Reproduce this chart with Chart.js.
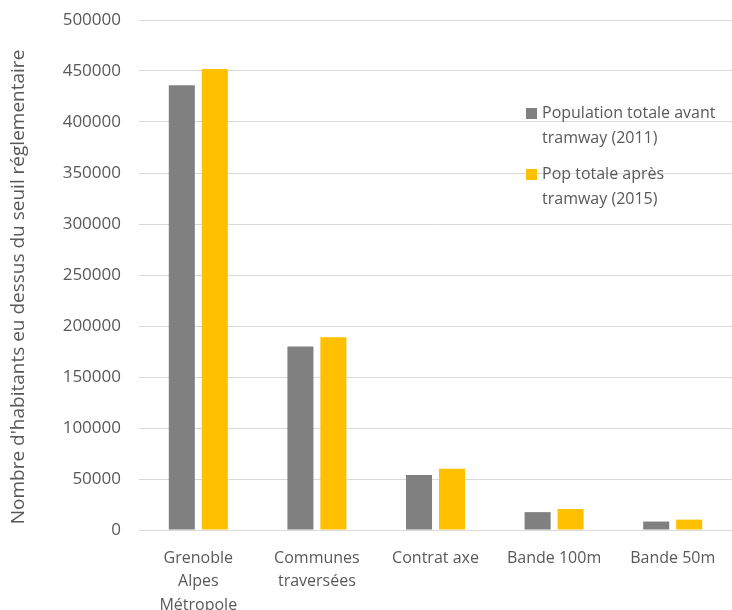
<!DOCTYPE html>
<html>
<head>
<meta charset="utf-8">
<script src="https://cdn.jsdelivr.net/npm/chart.js@4"></script>
<style>
  html, body { margin: 0; padding: 0; background: #fff; }
  #wrap { width: 732px; height: 610px; }
</style>
</head>
<body>
<div id="wrap"><canvas id="myChart" width="732" height="610"></canvas></div>
<script>
const categories = [['Grenoble', 'Alpes', 'Métropole'], ['Communes', 'traversées'], 'Contrat axe', 'Bande 100m', 'Bande 50m']
const avant2011 = [436000, 180000, 54000, 17500, 8300]
const apres2015 = [452000, 189000, 60000, 20600, 10200]
const yTicks = [0, 50000, 100000, 150000, 200000, 250000, 300000, 350000, 400000, 450000, 500000]
const seriesNames = [['Population totale avant', 'tramway (2011)'], ['Pop totale après', 'tramway (2015)']]
const yTitle = "Nombre d'habitants eu dessus du seuil réglementaire"
const colours = ['#808080', '#FFC000']

const FONT = '"Open Sans", sans-serif'
const TEXT = '#595959'

// legend sits inside the plot, over the gridlines, like the original
// axis title is a bit below the plot's middle in the original, so drawn here too
const extras = {
  id: 'extras',
  afterDraw(chart) {
    const ctx = chart.ctx
    ctx.save()
    ctx.font = '16px ' + FONT
    ctx.textBaseline = 'middle'
    const tops = [113, 174]
    seriesNames.forEach((lines, i) => {
      ctx.fillStyle = colours[i]
      ctx.fillRect(526, tops[i] - 5, 11, 11)
      ctx.fillStyle = TEXT
      lines.forEach((t, j) => ctx.fillText(t, 542, tops[i] + j * 25))
    })
    ctx.translate(19, 287)
    ctx.rotate(-Math.PI / 2)
    ctx.font = '19px ' + FONT
    ctx.textAlign = 'center'
    ctx.fillText(yTitle, 0, 0)
    ctx.restore()
  }
}

function chart() {
  const find = document.getElementById('myChart')
  new Chart(find, {
    type: 'bar',
    data: {
      labels: categories,
      datasets: [
        { label: seriesNames[0].join(' '), data: avant2011, backgroundColor: colours[0] },
        { label: seriesNames[1].join(' '), data: apres2015, backgroundColor: colours[1] }
      ]
    },
    options: {
      responsive: false,
      animation: false,
      layout: { padding: { top: 20, right: 0, bottom: 0, left: 0 } },
      categoryPercentage: 0.556,
      barPercentage: 0.79,
      plugins: {
        legend: { display: false },
        tooltip: { enabled: false }
      },
      scales: {
        x: {
          grid: { display: false },
          border: { display: false },
          ticks: {
            color: TEXT,
            font: { family: FONT, size: 16, lineHeight: 1.45 },
            padding: 9,
            maxRotation: 0,
            autoSkip: false
          },
          afterFit(scale) { scale.height = 80 }
        },
        y: {
          min: 0,
          max: 500000,
          afterBuildTicks(scale) { scale.ticks = yTicks.map(v => ({ value: v })) },
          grid: { color: '#d9d9d9', lineWidth: 1, drawTicks: false },
          border: { display: false },
          ticks: {
            color: TEXT,
            font: { family: FONT, size: 17 },
            padding: 18,
            callback: v => String(v)
          },
          afterFit(scale) {
            scale.width = 139
            scale.paddingTop = 0
            scale.paddingBottom = 0
          }
        }
      }
    },
    plugins: [extras]
  })
}

window.addEventListener('DOMContentLoaded', () => {
  chart()
})
</script>
</body>
</html>
